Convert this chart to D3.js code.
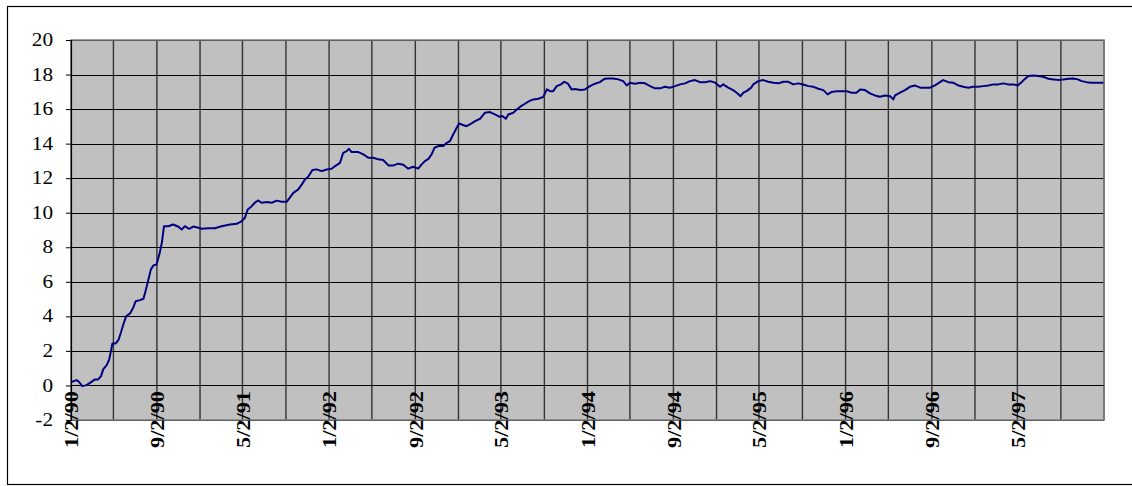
<!DOCTYPE html>
<html>
<head>
<meta charset="utf-8">
<script src="https://cdn.jsdelivr.net/npm/d3@7"></script>
<style>
  html, body { margin: 0; padding: 0; background: #fff; }
  svg { display: block; }
  text { font-family: "Liberation Serif", "Times New Roman", serif; fill: #000; }
</style>
</head>
<body>
<svg id="chart" width="1132" height="486"></svg>
<script>
// ---- data (calendar days since 1/2/90) ----
const startDate = "1/2/90";
const endDate = "1/2/98";
const dayOffsets = [
  0,16,23,32,44,57,68,77,85,91,101,108,113,117,126,134,141,148,156,167,
  176,183,195,205,212,219,226,233,242,250,257,263,275,289,304,313,322,334,346,360,
  370,388,407,426,450,469,483,492,500,511,520,530,539,554,568,582,596,610,619,629,
  643,653,662,671,683,695,709,723,737,747,761,770,780,786,794,813,827,841,855,869,
  883,898,912,926,940,954,968,982,992,1001,1011,1020,1028,1039,1053,1063,1072,1081,1091,1098,
  1105,1119,1133,1143,1157,1171,1185,1199,1211,1220,1230,1237,1251,1261,1273,1284,1296,1308,1322,1336,
  1346,1355,1364,1374,1386,1395,1405,1416,1426,1440,1454,1468,1482,1496,1509,1520,1534,1548,1562,1572,
  1581,1595,1610,1624,1638,1652,1666,1680,1694,1709,1723,1737,1751,1765,1779,1793,1808,1822,1836,1845,
  1859,1873,1883,1894,1902,1911,1924,1930,1944,1958,1972,1987,2001,2015,2029,2043,2057,2071,2086,2100,
  2114,2128,2140,2152,2166,2180,2194,2208,2222,2232,2246,2260,2274,2288,2303,2317,2326,2331,2345,2359,
  2373,2387,2402,2416,2430,2444,2458,2467,2482,2496,2510,2524,2538,2552,2566,2581,2595,2609,2623,2637,
  2651,2666,2678,2687,2697,2708,2722,2736,2750,2765,2779,2793,2807,2821,2835,2848,2859,2873,2887,2901,
  2920
];
const values = [
  0.19,0.31,0.20,-0.04,0.02,0.19,0.35,0.35,0.54,0.93,1.18,1.50,1.99,2.43,2.43,2.62,3.05,3.53,4.01,4.17,
  4.50,4.88,4.94,5.02,5.56,6.14,6.72,6.95,7.00,7.59,8.26,9.22,9.22,9.32,9.19,9.03,9.22,9.07,9.20,9.13,
  9.07,9.10,9.10,9.22,9.32,9.36,9.52,9.71,10.19,10.38,10.58,10.71,10.58,10.62,10.58,10.70,10.63,10.63,10.87,11.15,
  11.35,11.64,11.93,12.08,12.47,12.51,12.41,12.50,12.55,12.70,12.89,13.47,13.57,13.70,13.51,13.51,13.38,13.18,13.18,13.09,
  13.05,12.74,12.74,12.84,12.78,12.55,12.66,12.55,12.80,12.99,13.12,13.38,13.76,13.86,13.86,14.05,14.15,14.53,14.92,15.17,
  15.11,15.01,15.17,15.30,15.44,15.79,15.83,15.69,15.56,15.60,15.44,15.69,15.79,15.98,16.17,16.31,16.46,16.56,16.60,16.71,
  17.14,17.04,17.04,17.33,17.43,17.58,17.49,17.14,17.16,17.10,17.14,17.33,17.47,17.56,17.75,17.77,17.77,17.72,17.62,17.37,
  17.52,17.47,17.52,17.49,17.33,17.20,17.20,17.29,17.24,17.33,17.43,17.49,17.62,17.68,17.56,17.56,17.62,17.53,17.29,17.43,
  17.24,17.10,16.95,16.75,16.95,17.04,17.24,17.43,17.62,17.68,17.58,17.52,17.49,17.58,17.58,17.43,17.49,17.42,17.33,17.29,
  17.18,17.10,16.85,16.99,17.04,17.04,17.04,16.95,16.95,17.14,17.10,16.91,16.79,16.72,16.79,16.75,16.56,16.79,16.95,17.10,
  17.29,17.37,17.24,17.24,17.24,17.37,17.56,17.68,17.56,17.52,17.37,17.29,17.24,17.29,17.29,17.33,17.37,17.43,17.43,17.49,
  17.43,17.43,17.37,17.52,17.72,17.91,17.95,17.91,17.87,17.75,17.72,17.68,17.72,17.75,17.77,17.72,17.62,17.56,17.52,17.52,
  17.52
];
const xTickLabels = ["1/2/90","9/2/90","5/2/91","1/2/92","9/2/92","5/2/93","1/2/94","9/2/94","5/2/95","1/2/96","9/2/96","5/2/97"];
const yTicks = [-2,0,2,4,6,8,10,12,14,16,18,20];

// ---- drawing ----
const parse = d3.timeParse("%-m/%-d/%y");
const t0 = parse(startDate), t1 = parse(endDate);
const data = dayOffsets.map((d, i) => ({ date: d3.timeDay.offset(t0, d), value: values[i] }));

const L = 71, R = 1104, T = 40, B = 420;
const x = d3.scaleTime().domain([t0, t1]).range([L, R]);
const y = d3.scaleLinear().domain([-2, 20]).range([B, T]);

const svg = d3.select("#chart");

// outer frame
svg.append("rect").attr("x", 7.5).attr("y", 6.5).attr("width", 1140).attr("height", 478)
  .attr("fill", "#fff").attr("stroke", "#000").attr("stroke-width", 1.2);

// plot area
svg.append("rect").attr("x", L).attr("y", T).attr("width", R - L).attr("height", B - T)
  .attr("fill", "#c0c0c0");

// vertical gridlines every 4 months
const gridDates = d3.timeMonth.range(d3.timeMonth.floor(t0), d3.timeDay.offset(t1, 1), 4)
  .map(d => d3.timeDay.offset(d, 1));
svg.append("g").selectAll("line").data(gridDates).join("line")
  .attr("x1", d => x(d)).attr("x2", d => x(d)).attr("y1", T).attr("y2", B)
  .attr("stroke", "#333").attr("stroke-width", 1.4);

// horizontal gridlines
svg.append("g").selectAll("line").data(yTicks).join("line")
  .attr("x1", L).attr("x2", R).attr("y1", d => Math.round(y(d)) + 0.5).attr("y2", d => Math.round(y(d)) + 0.5)
  .attr("stroke", "#000").attr("stroke-width", 1);

// plot border (gray)
svg.append("rect").attr("x", L).attr("y", T).attr("width", R - L).attr("height", B - T)
  .attr("fill", "none").attr("stroke", "#808080").attr("stroke-width", 1.5);

// y axis
const yAxis = d3.axisLeft(y).tickValues(yTicks).tickSize(5).tickFormat("");
const gy = svg.append("g").attr("transform", `translate(${L},0)`).call(yAxis);
gy.select(".domain").attr("stroke", "#000").attr("stroke-width", 1.2);
gy.selectAll(".tick line").attr("stroke", "#000");
svg.append("g").selectAll("text").data(yTicks).join("text")
  .attr("transform", d => `translate(53,${y(d)}) scale(1.18,1)`)
  .attr("text-anchor", "end").attr("dy", "0.34em")
  .attr("font-size", 18)
  .text(d => d);

// x axis at zero
svg.append("line").attr("x1", L).attr("x2", R).attr("y1", Math.round(y(0)) + 0.5).attr("y2", Math.round(y(0)) + 0.5)
  .attr("stroke", "#000").attr("stroke-width", 1.2);

// x labels (rotated)
svg.append("g").selectAll("text").data(xTickLabels).join("text")
  .attr("transform", d => `translate(${x(parse(d)) + 1},391) rotate(-90) scale(1.24,1)`)
  .attr("text-anchor", "end").attr("dy", "0.35em")
  .attr("font-size", 18).attr("font-weight", "bold")
  .text(d => d);

// the line
const line = d3.line().x(d => x(d.date)).y(d => y(d.value));
svg.append("path").datum(data)
  .attr("d", line).attr("fill", "none")
  .attr("stroke", "#000080").attr("stroke-width", 2).attr("stroke-linejoin", "round");
</script>
</body>
</html>
